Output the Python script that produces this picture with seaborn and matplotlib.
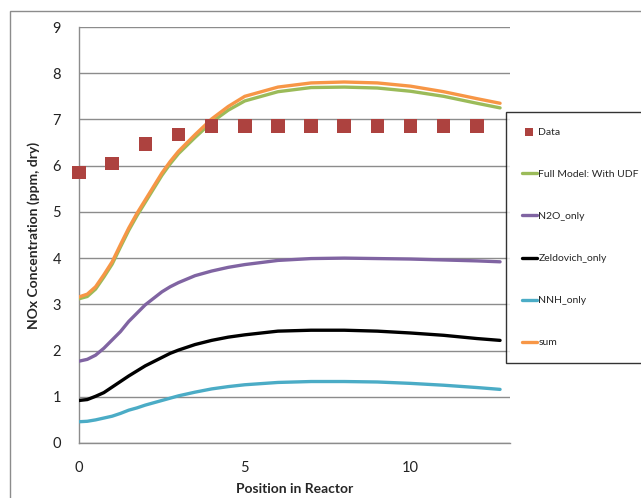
import numpy as np
import pandas as pd
import matplotlib
matplotlib.use("Agg")
import matplotlib.pyplot as plt
import seaborn as sns
from matplotlib.patches import Rectangle

# ---- data ----
data_x = [0, 1, 2, 3, 4, 5, 6, 7, 8, 9, 10, 11, 12]
data_y = [5.85, 6.05, 6.47, 6.67, 6.86, 6.86, 6.86, 6.86, 6.86, 6.86, 6.86, 6.86, 6.86]

pos = [0, 0.25, 0.5, 0.75, 1, 1.25, 1.5, 1.75, 2, 2.25, 2.5, 2.75, 3, 3.5, 4, 4.5, 5,
       6, 7, 8, 9, 10, 11, 12, 12.7]
full_model = [3.12, 3.17, 3.33, 3.59, 3.87, 4.24, 4.60, 4.92, 5.21, 5.50, 5.79, 6.04, 6.26,
              6.61, 6.94, 7.20, 7.40, 7.60, 7.69, 7.70, 7.68, 7.61, 7.50, 7.35, 7.25]
n2o_only = [1.77, 1.81, 1.90, 2.05, 2.23, 2.41, 2.63, 2.81, 2.99, 3.13, 3.27, 3.38, 3.47,
            3.62, 3.72, 3.80, 3.86, 3.95, 3.99, 4.00, 3.99, 3.98, 3.96, 3.94, 3.92]
zeldovich_only = [0.92, 0.94, 1.01, 1.09, 1.21, 1.33, 1.45, 1.56, 1.67, 1.76, 1.85, 1.94, 2.01,
                  2.13, 2.22, 2.29, 2.34, 2.42, 2.44, 2.44, 2.42, 2.38, 2.33, 2.26, 2.22]
nnh_only = [0.46, 0.47, 0.50, 0.54, 0.58, 0.64, 0.71, 0.76, 0.82, 0.87, 0.92, 0.97, 1.02,
            1.10, 1.17, 1.22, 1.26, 1.31, 1.33, 1.33, 1.32, 1.29, 1.25, 1.20, 1.16]
sum_vals = [3.16, 3.22, 3.38, 3.64, 3.92, 4.29, 4.65, 4.97, 5.26, 5.55, 5.84, 6.09, 6.31,
            6.67, 7.01, 7.28, 7.50, 7.70, 7.79, 7.81, 7.79, 7.72, 7.60, 7.45, 7.35]

series_names = ["Full Model: With UDF", "N2O_only", "Zeldovich_only", "NNH_only", "sum"]
series_vals = [full_model, n2o_only, zeldovich_only, nnh_only, sum_vals]
series_colors = ["#9BBB59", "#8064A2", "#000000", "#4BACC6", "#F79646"]

x_ticks = [0, 5, 10]
y_ticks = [0, 1, 2, 3, 4, 5, 6, 7, 8, 9]

sns.set_style("white")
plt.rcParams["font.family"] = ["Lato", "DejaVu Sans"]

W, H = 641, 498
fig = plt.figure(figsize=(W / 100, H / 100), dpi=100)
ax = fig.add_axes([79 / W, 1 - 443 / H, (510 - 79) / W, (443 - 27) / H])

df_data = pd.DataFrame({"x": data_x, "y": data_y})
sns.scatterplot(data=df_data, x="x", y="y", ax=ax, marker="s", s=95,
                color="#AD423F", edgecolor="none", label="Data", zorder=5, clip_on=False)

for name, vals, col in zip(series_names, series_vals, series_colors):
    d = pd.DataFrame({"x": pos, "y": vals})
    sns.lineplot(data=d, x="x", y="y", ax=ax, color=col, linewidth=2.4,
                 label=name, zorder=3)

ax.set_xlim(0, 13)
ax.set_ylim(0, 9)
ax.set_xticks(x_ticks)
ax.set_yticks(y_ticks)
ax.yaxis.grid(True, color="#8C8C8C", linewidth=1.0)
ax.xaxis.grid(False)
ax.set_axisbelow(True)
for s in ["top", "right"]:
    ax.spines[s].set_visible(False)
for s in ["left", "bottom"]:
    ax.spines[s].set_color("#8C8C8C")
    ax.spines[s].set_linewidth(1.0)
ax.tick_params(axis="both", direction="out", length=5, width=1.0, color="#8C8C8C",
               labelsize=10.5, labelcolor="#222222", pad=8)
ax.set_xlabel("Position in Reactor", fontsize=10, fontweight="bold", labelpad=6)
ax.set_ylabel("NOx Concentration (ppm, dry)", fontsize=10, fontweight="bold", labelpad=9)

ax.get_legend().remove()
handles, labels = ax.get_legend_handles_labels()
leg = fig.legend(handles, labels, loc="upper left",
                 bbox_to_anchor=(506 / W, 1 - 112 / H), frameon=True, fancybox=False,
                 fontsize=7.5, labelspacing=3.15, handlelength=1.5, handletextpad=0.1,
                 borderpad=1.5, borderaxespad=0, markerscale=0.6)
leg.get_frame().set_edgecolor("#000000")
leg.get_frame().set_linewidth(1.0)

fig.add_artist(Rectangle((10 / W, -0.05), 1.1, 1 - 11 / H + 0.05, transform=fig.transFigure,
                         fill=False, edgecolor="#8C8C8C", linewidth=1.0, clip_on=False))

fig.savefig("out.png", dpi=100)
